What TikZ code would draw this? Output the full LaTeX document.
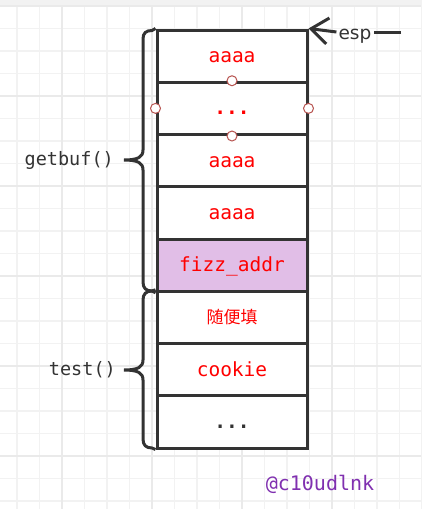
\documentclass[tikz,border=0pt]{standalone}
\usepackage{fontspec}
\setmainfont{DejaVu Sans}
\setmonofont{DejaVu Sans Mono}
\newfontfamily\cjk{Noto Sans CJK SC}
\usetikzlibrary{arrows.meta}
\definecolor{ink}{HTML}{333333}
\definecolor{gridthin}{HTML}{F2F2F2}
\definecolor{gridthick}{HTML}{EAEAEA}
\definecolor{lilac}{HTML}{E1BEE7}
\definecolor{handlered}{HTML}{B85450}
\definecolor{wm}{HTML}{8030B0}
\tikzset{
  cell/.style={draw=ink, line width=3pt, minimum width=150pt, minimum height=52.25pt, inner sep=0pt, fill=white,
    text height=15pt, text depth=2pt,
    font=\ttfamily\fontsize{19.5}{19.5}\selectfont, text=red},
  handle/.style={circle, draw=handlered, fill=white, line width=1pt, minimum size=10pt, inner sep=0pt},
  brace/.style={draw=ink, line width=3pt},
  lbl/.style={font=\ttfamily\fontsize{18.5}{18.5}\selectfont, text=ink, inner sep=0pt},
}
\begin{document}
\begin{tikzpicture}[x=1pt,y=-1pt]
\useasboundingbox (0,0) rectangle (421,509);
\fill[white] (0,0) rectangle (421,509);
% grid
\foreach \i in {0,...,18} {
  \draw[gridthin, line width=1.2pt] ({17+22.5*\i},0) -- ({17+22.5*\i},509);
}
\foreach \i in {0,...,22} {
  \draw[gridthin, line width=1.2pt] (0,{6+22.5*\i}) -- (421,{6+22.5*\i});
}
\foreach \x in {-28,62,152,242,332} \draw[gridthick, line width=1.3pt] (\x,0) -- (\x,509);
\foreach \y in {6,96,186,276,366,456} \draw[gridthick, line width=1.3pt] (0,\y) -- (421,\y);
\fill[gridthin] (0,0) rectangle (421,5);

% stack cells
\node[cell] (r1) at (232,56.125) {aaaa};
\node[cell, font=\ttfamily\bfseries\fontsize{19.5}{19.5}\selectfont] (r2) at (232,108.375) {...};
\node[cell] (r3) at (232,160.625) {aaaa};
\node[cell] (r4) at (232,212.875) {aaaa};
\node[cell, fill=lilac] (r5) at (232,265.125) {fizz\_addr};
\node[cell, font=\cjk\fontsize{17}{17}\selectfont] (r6) at (232,317.375) {随便填};
\node[cell] (r7) at (232,369.625) {cookie};
\node[cell, text=ink, font=\ttfamily\bfseries\fontsize{19.5}{19.5}\selectfont] (r8) at (232,421.875) {...};

% handles
\node[handle] (h1) at (r2.north) {};
\node[handle] (h2) at (r2.south) {};
\node[handle] (h3) at (r2.west) {};
\node[handle] (h4) at (r2.east) {};

% braces
\draw[brace] (r1.north west) -- (152,30.5) .. controls (146,30.5) and (143,33) .. (143,39) -- (143,150)
  .. controls (143,157) and (138,160) .. (124,160) .. controls (138,160) and (143,163) .. (143,170)
  -- (143,282) .. controls (143,288) and (146,291) .. (152,291) -- (r5.south west);
\draw[brace] (r6.north west) -- (152,291) .. controls (146,291) and (143,294) .. (143,300) -- (143,360)
  .. controls (143,367) and (138,370) .. (124,370) .. controls (138,370) and (143,373) .. (143,380)
  -- (143,439) .. controls (143,445) and (146,448) .. (152,448) -- (r8.south west);

\node[lbl, anchor=east] (gb) at (114,160) {getbuf()};
\node[lbl, anchor=east] (ts) at (116,370) {test()};

% esp pointer
\coordinate (espend) at (401,32);
\node[font=\fontsize{18.5}{18.5}\selectfont, text=ink, inner sep=2pt, anchor=base] (esp) at (355,39) {esp};
\draw[ink, line width=3pt] (espend) -- (esp.east |- espend);
\draw[ink, line width=3pt, -{Straight Barb[length=17pt, width=26pt, line width=3pt]}] (esp.west |- espend) -- (r1.north east);

% watermark
\node[font=\ttfamily\fontsize{20}{20}\selectfont, text=wm] (wmk) at (320,484) {@c10udlnk};
\end{tikzpicture}
\end{document}
